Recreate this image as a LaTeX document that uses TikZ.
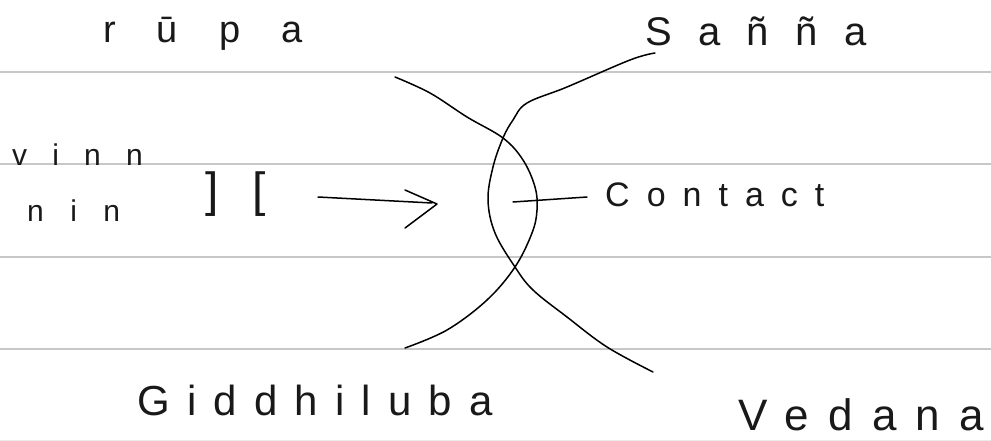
\documentclass[tikz,border=0pt]{standalone}
\usepackage{fontspec}
\setmainfont{Liberation Sans}
\begin{document}
\begin{tikzpicture}[x=1pt,y=-1pt,
  rule/.style={draw=black!22,line width=1.3pt},
  ink/.style={draw=black,line width=1.5pt,line cap=round,line join=round},
  hw/.style={anchor=base west,inner sep=0pt,text=black!90}]
\useasboundingbox (0,0) rectangle (991,441);
\fill[white] (0,0) rectangle (991,441);
% ruled lines
\foreach \yy in {72,164,257,349} \draw[rule] (0,\yy) -- (991,\yy);
\draw[draw=black!8,line width=1pt] (0,440) -- (991,440);
% labels
\node[hw] (rupa) at (103,43) {\fontsize{38}{38}\selectfont\addfontfeatures{LetterSpace=108}rūpa};
\node[hw] (sanna) at (645,46) {\fontsize{40}{40}\selectfont\addfontfeatures{LetterSpace=66}Sañña};
\node[hw] (vinn) at (12,165) {\fontsize{30}{30}\selectfont\addfontfeatures{LetterSpace=84}vinn};
\node[hw] (nin) at (27,221) {\fontsize{30}{30}\selectfont\addfontfeatures{LetterSpace=88}nin};
\node[hw] (br) at (205,206) {\fontsize{48}{48}\selectfont\addfontfeatures{LetterSpace=70}][};
\node[hw] (contact) at (605,207) {\fontsize{34}{34}\selectfont\addfontfeatures{LetterSpace=50}Contact};
\node[hw] (giddhi) at (137,415) {\fontsize{42}{42}\selectfont\addfontfeatures{LetterSpace=41}Giddhiluba};
\node[hw] (vedana) at (738,430) {\fontsize{44}{44}\selectfont\addfontfeatures{LetterSpace=44}Vedana};
% curves: rupa side -> right arc -> Giddhiluba side
\draw[ink] plot[smooth,tension=0.6] coordinates {(395,77) (430,93) (467,117) (503,138) (523,160) (535,187) (537,210) (532,233) (515,267) (487,300) (447,330) (405,348)};
% Sanna side -> left arc -> Vedana side
\draw[ink] plot[smooth,tension=0.6] coordinates {(655,53) (630,60) (567,87) (527,103) (513,120) (503,138) (493,167) (488,200) (495,233) (515,267) (533,290) (567,317) (607,347) (653,372)};
% contact pointer
\coordinate (cin) at (513,202);
\coordinate (cout) at (587,197);
\draw[ink] (cin) -- (cout);
% arrow
\coordinate (as) at (318,197);
\coordinate (ae) at (432,203);
\draw[ink] (as) -- (ae);
\draw[ink] (405,190) -- (437,204) -- (405,228);
\end{tikzpicture}
\end{document}
